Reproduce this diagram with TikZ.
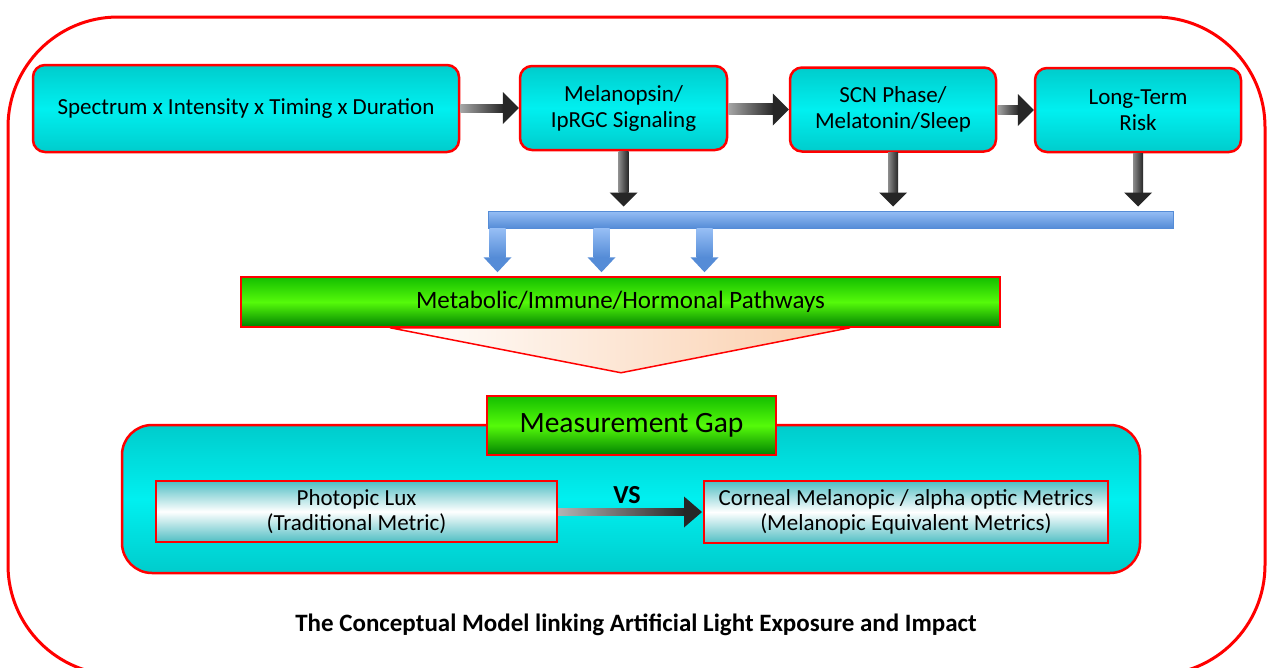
\documentclass[tikz,border=0pt]{standalone}
\usepackage{fontspec}
\setmainfont{Carlito}
\usetikzlibrary{calc}
\definecolor{RedLine}{RGB}{255,0,0}
\definecolor{TealDark}{RGB}{0,204,204}
\definecolor{CyanBright}{RGB}{0,240,240}
\definecolor{GreenBright}{RGB}{85,250,10}
\definecolor{GreenTop}{RGB}{20,190,0}
\definecolor{GreenDeep}{RGB}{0,130,0}
\definecolor{BarBlue}{RGB}{85,140,215}
\definecolor{BarBlueLight}{RGB}{150,190,245}
\definecolor{Peach}{RGB}{250,205,170}
\definecolor{MetricTeal}{RGB}{80,190,195}

\begin{document}
\begin{tikzpicture}[x=1pt, y=-1pt,
    stagebox/.style={draw=RedLine, line width=2.5pt, rounded corners=12pt, top color=TealDark, bottom color=TealDark, middle color=CyanBright, minimum height=84pt, align=center, font=\fontsize{23}{26}\selectfont},
    greenbox/.style={draw=RedLine, line width=1.5pt, top color=GreenTop, bottom color=GreenDeep, middle color=GreenBright, align=center},
    metricbox/.style={draw=RedLine, line width=2pt, top color=MetricTeal, bottom color=MetricTeal, middle color=white, minimum height=61pt, align=center, font=\fontsize{23}{25}\selectfont}]
  \useasboundingbox (0,0) rectangle (1269,667);
  \clip (0,0) rectangle (1269,667);
  \fill[white] (0,0) rectangle (1269,667);
  \draw[RedLine, line width=3pt, rounded corners=110pt] (8,17) rectangle (1265,675);

  % top chain
  \node[stagebox, minimum width=426pt, minimum height=87pt] (expo) at (246,108.5) {Spectrum x Intensity x Timing x Duration};
  \node[stagebox, minimum width=207pt] (melan) at (623.5,108) {Melanopsin/\\IpRGC Signaling};
  \node[stagebox, minimum width=206pt] (scn) at (893,109.5) {SCN Phase/\\Melatonin/Sleep};
  \node[stagebox, minimum width=206pt] (risk) at (1138,110) {Long-Term\\Risk};

  \foreach \a/\b in {expo/melan,melan/scn,scn/risk}{
    \shade[left color=black!35, right color=black!85] ($(\a.east)+(0,-4.5)$) rectangle ($(\b.west)+(-15,4.5)$);
    \fill[black!85] ($(\b.west)+(-16,-16)$) -- (\b.west) -- ($(\b.west)+(-16,16)$) -- cycle;
  }

  % collecting bar
  \node[draw=BarBlue, line width=1pt, top color=BarBlueLight, bottom color=BarBlue, minimum width=685pt, minimum height=17pt, inner sep=0pt] (bar) at (830.5,219.5) {};

  \foreach \n in {melan,scn,risk}{
    \coordinate (tip) at ($(\n.south |- bar.north)+(0,-4)$);
    \shade[left color=black!45, right color=black!85] ($(\n.south)+(-5,0)$) rectangle ($(tip)+(5,-14)$);
    \fill[black!85] ($(tip)+(-14,-14)$) -- (tip) -- ($(tip)+(14,-14)$) -- cycle;
  }

  % pathways
  \node[greenbox, minimum width=759pt, minimum height=50pt, font=\fontsize{25}{28}\selectfont] (pathway) at (620.5,302) {Metabolic/Immune/Hormonal Pathways};

  \foreach \x in {10,114,217}{
    \coordinate (top) at ($(bar.south west)+(\x,0)$);
    \coordinate (tip) at ($(top |- pathway.north)+(0,-4)$);
    \shade[top color=BarBlueLight, bottom color=BarBlue] ($(top)+(-8,0)$) rectangle ($(tip)+(8,-15)$);
    \fill[BarBlue] ($(tip)+(-14,-15)$) -- (tip) -- ($(tip)+(14,-15)$) -- cycle;
  }

  \draw[RedLine, line width=1.5pt, left color=white, right color=Peach] ($(pathway.south)+(-230.5,0)$) -- ($(pathway.south)+(229.5,0)$) -- ($(pathway.south)+(0.5,45)$) -- cycle;

  % measurement gap
  \node[draw=RedLine, line width=2.5pt, rounded corners=30pt, top color=TealDark, bottom color=TealDark, middle color=CyanBright, minimum width=1018pt, minimum height=148pt] (gapbox) at (631,499) {};
  \node[greenbox, minimum width=289pt, minimum height=59pt, font=\fontsize{29.5}{32}\selectfont] (gap) at (631.5,425.5) {Measurement Gap};

  \node[metricbox, minimum width=401pt] (lux) at (356.5,511.5) {Photopic Lux\\(Traditional Metric)};
  \node[metricbox, minimum width=404pt, minimum height=62pt] (corneal) at (906,512) {Corneal Melanopic / alpha optic Metrics\\(Melanopic Equivalent Metrics)};

  \shade[left color=black!30, right color=black!85] ($(lux.east)+(0,-3.5)$) rectangle ($(corneal.west)+(-18,3.5)$);
  \fill[black!85] ($(corneal.west)+(-19,-15.5)$) -- ($(corneal.west)+(-1,0)$) -- ($(corneal.west)+(-19,15.5)$) -- cycle;
  \node[font=\bfseries\fontsize{26}{30}\selectfont] (vs) at (627,495) {VS};

  % caption
  \node[font=\bfseries\fontsize{25}{28}\selectfont] (caption) at (636,625) {The Conceptual Model linking Artificial Light Exposure and Impact};
\end{tikzpicture}
\end{document}
